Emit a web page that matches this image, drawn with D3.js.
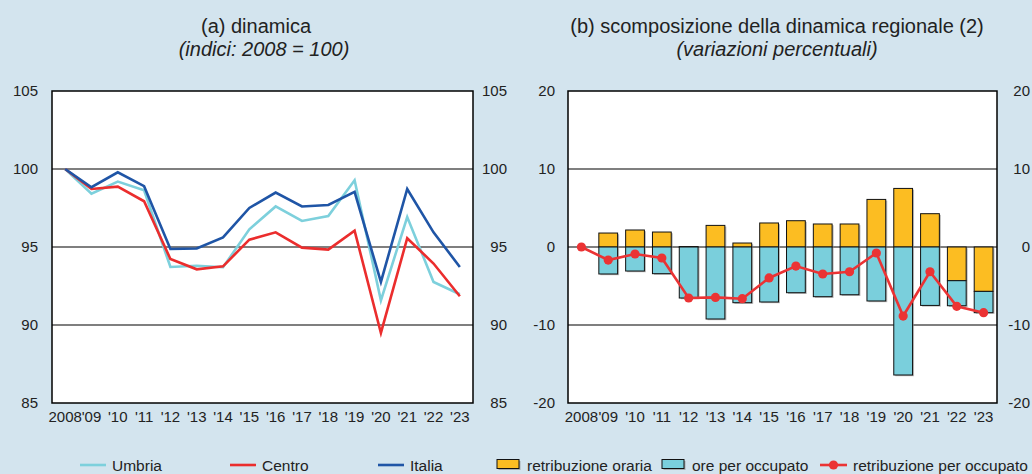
<!DOCTYPE html>
<html><head><meta charset="utf-8">
<script src="https://cdn.jsdelivr.net/npm/d3@7"></script>
<style>
html,body{margin:0;padding:0;background:#d3e4ee;}
svg{display:block;font-family:"Liberation Sans",Arial,sans-serif;}
</style></head>
<body>
<script>
const years = ["2008","'09","'10","'11","'12","'13","'14","'15","'16","'17","'18","'19","'20","'21","'22","'23"];
const umbria = [100,98.42,99.19,98.63,93.72,93.8,93.7,96.13,97.6,96.67,96.99,99.28,91.58,96.92,92.76,91.97];
const centro = [100,98.72,98.87,97.93,94.23,93.57,93.76,95.47,95.94,94.96,94.83,96.05,89.49,95.56,93.94,91.84];
const italia = [100,98.83,99.79,98.9,94.87,94.9,95.62,97.5,98.49,97.6,97.69,98.53,92.76,98.72,95.94,93.72];
const retribOraria = [null,1.79,2.18,1.92,0.05,2.77,0.51,3.08,3.37,2.95,2.95,6.1,7.51,4.27,-4.32,-5.69];
const orePerOccupato = [null,-3.46,-3.08,-3.42,-6.54,-9.23,-7.14,-7.05,-5.86,-6.37,-6.12,-6.92,-16.41,-7.49,-3.21,-2.73];
const retribPerOccupato = [0,-1.67,-0.9,-1.41,-6.54,-6.46,-6.63,-3.97,-2.44,-3.46,-3.17,-0.77,-8.85,-3.17,-7.61,-8.42];
const leftTicks = [85,90,95,100,105];
const rightTicks = [-20,-10,0,10,20];

const C = {bg:"#d3e4ee", umbria:"#7dd0dc", centro:"#eb2d2d", italia:"#1f55a6", yellow:"#fcbd22", cyan:"#7acfdc", red:"#eb3334", grid:"#555", text:"#222"};

const W=1032,H=474;
const svg=d3.select("body").append("svg").attr("width",W).attr("height",H);
svg.append("rect").attr("width",W).attr("height",H).attr("fill",C.bg);

const pTop=91,pBottom=403;
const fmt=d=>String(d);

// ---------- Panel A ----------
const ax0=52, ax1=473;
const xa=d3.scaleBand().domain(years).range([ax0,ax1]).padding(0);
const ya=d3.scaleLinear().domain([85,105]).range([pBottom,pTop]);
svg.append("rect").attr("x",ax0).attr("y",pTop).attr("width",ax1-ax0).attr("height",pBottom-pTop).attr("fill","#fff");
svg.append("g").selectAll("line").data([90,95,100]).join("line")
  .attr("x1",ax0).attr("x2",ax1).attr("y1",d=>ya(d)).attr("y2",d=>ya(d)).attr("stroke",C.grid).attr("stroke-width",1.3);

const lineA=d3.line().x((d,i)=>xa(years[i])+xa.bandwidth()/2).y(d=>ya(d));
[[umbria,C.umbria],[centro,C.centro],[italia,C.italia]].forEach(([s,c])=>{
  svg.append("path").datum(s).attr("d",lineA).attr("fill","none").attr("stroke",c).attr("stroke-width",2.6).attr("stroke-linejoin","miter");
});
svg.append("rect").attr("x",ax0).attr("y",pTop).attr("width",ax1-ax0).attr("height",pBottom-pTop).attr("fill","none").attr("stroke","#000").attr("stroke-width",1.5);

svg.append("g").attr("transform",`translate(${ax0-14},0)`).call(d3.axisLeft(ya).tickValues(leftTicks).tickFormat(fmt).tickSize(0).tickPadding(0));
svg.append("g").attr("transform",`translate(${ax1+34},0)`).call(d3.axisLeft(ya).tickValues(leftTicks).tickFormat(fmt).tickSize(0).tickPadding(0));
svg.append("g").attr("transform",`translate(0,${pBottom+8})`).call(d3.axisBottom(xa).tickSize(0).tickPadding(0));

// ---------- Panel B ----------
const bx0=568, bx1=997;
const xb=d3.scaleBand().domain(years).range([bx0,bx1]).padding(0);
const yb=d3.scaleLinear().domain([-20,20]).range([pBottom,pTop]);
svg.append("rect").attr("x",bx0).attr("y",pTop).attr("width",bx1-bx0).attr("height",pBottom-pTop).attr("fill","#fff");
svg.append("g").selectAll("line").data([-10,0,10]).join("line")
  .attr("x1",bx0).attr("x2",bx1).attr("y1",d=>yb(d)).attr("y2",d=>yb(d)).attr("stroke",C.grid).attr("stroke-width",1.3);

const bw=xb.bandwidth()*0.7;
const bars=[];
years.forEach((y,i)=>{
  if(retribOraria[i]==null) return;
  const a=retribOraria[i], b=orePerOccupato[i];
  let pos=0,neg=0;
  [[a,C.yellow],[b,C.cyan]].forEach(([v,c])=>{
    let y0,y1;
    if(v>=0){y0=pos;y1=pos+v;pos=y1;} else {y0=neg;y1=neg+v;neg=y1;}
    bars.push({x:xb(y)+(xb.bandwidth()-bw)/2, v0:y0, v1:y1, c});
  });
});
const gb=svg.append("g");
gb.selectAll("rect.sh").data(bars).join("rect").attr("class","sh")
  .attr("x",d=>d.x+1.5).attr("y",d=>Math.min(yb(d.v0),yb(d.v1))+1.2).attr("width",bw).attr("height",d=>Math.abs(yb(d.v0)-yb(d.v1)))
  .attr("fill","#888").attr("opacity",0.6);
gb.selectAll("rect.b").data(bars).join("rect").attr("class","b")
  .attr("x",d=>d.x).attr("y",d=>Math.min(yb(d.v0),yb(d.v1))).attr("width",bw).attr("height",d=>Math.abs(yb(d.v0)-yb(d.v1)))
  .attr("fill",d=>d.c).attr("stroke","#111").attr("stroke-width",1);

const lineB=d3.line().x((d,i)=>xb(years[i])+xb.bandwidth()/2).y(d=>yb(d));
svg.append("path").datum(retribPerOccupato).attr("d",lineB).attr("fill","none").attr("stroke",C.red).attr("stroke-width",2.6);
svg.append("g").selectAll("circle").data(retribPerOccupato).join("circle")
  .attr("cx",(d,i)=>xb(years[i])+xb.bandwidth()/2).attr("cy",d=>yb(d)).attr("r",4.6).attr("fill",C.red);
svg.append("rect").attr("x",bx0).attr("y",pTop).attr("width",bx1-bx0).attr("height",pBottom-pTop).attr("fill","none").attr("stroke","#000").attr("stroke-width",1.5);

svg.append("g").attr("transform",`translate(${bx0-13},0)`).call(d3.axisLeft(yb).tickValues(rightTicks).tickFormat(fmt).tickSize(0).tickPadding(0));
svg.append("g").attr("transform",`translate(${bx1+33},0)`).call(d3.axisLeft(yb).tickValues(rightTicks).tickFormat(fmt).tickSize(0).tickPadding(0));
svg.append("g").attr("transform",`translate(0,${pBottom+8})`).call(d3.axisBottom(xb).tickSize(0).tickPadding(0));

svg.selectAll(".domain").remove();
svg.selectAll(".tick text").attr("font-size",15).attr("fill",C.text).attr("font-family","'Liberation Sans',Arial,sans-serif");

// ---------- Titles ----------
function title(x,y,t,italic){
  svg.append("text").attr("x",x).attr("y",y).attr("text-anchor","middle").attr("font-size",20)
    .attr("fill",C.text).attr("font-style",italic?"italic":"normal").text(t);
}
title(256,33,"(a) dinamica");
title(264,56,"(indici: 2008 = 100)",true);
title(777,33,"(b) scomposizione della dinamica regionale (2)");
title(777,56,"(variazioni percentuali)",true);

// ---------- Legends ----------
const ly=465;
const legA=[["Umbria",C.umbria,80],["Centro",C.centro,230],["Italia",C.italia,378]];
legA.forEach(([t,c,x])=>{
  svg.append("line").attr("x1",x).attr("x2",x+26).attr("y1",ly).attr("y2",ly).attr("stroke",c).attr("stroke-width",2.6);
  svg.append("text").attr("x",x+32).attr("y",ly+5.5).attr("font-size",15.5).attr("fill",C.text).text(t);
});
const legB=[["retribuzione oraria",C.yellow,497,"rect"],["ore per occupato",C.cyan,662,"rect"],["retribuzione per occupato",C.red,820,"line"]];
legB.forEach(([t,c,x,k])=>{
  if(k==="rect"){
    svg.append("rect").attr("x",x+1.5).attr("y",ly-4).attr("width",22).attr("height",9).attr("fill","#888").attr("opacity",0.6);
    svg.append("rect").attr("x",x).attr("y",ly-5.5).attr("width",22).attr("height",9).attr("fill",c).attr("stroke","#111").attr("stroke-width",1);
  } else {
    svg.append("line").attr("x1",x).attr("x2",x+27).attr("y1",ly).attr("y2",ly).attr("stroke",c).attr("stroke-width",2.6);
    svg.append("circle").attr("cx",x+13.5).attr("cy",ly).attr("r",4.6).attr("fill",c);
  }
  svg.append("text").attr("x",x+(k==="rect"?30:33)).attr("y",ly+5.5).attr("font-size",15.5).attr("fill",C.text).text(t);
});
</script>
</body></html>
